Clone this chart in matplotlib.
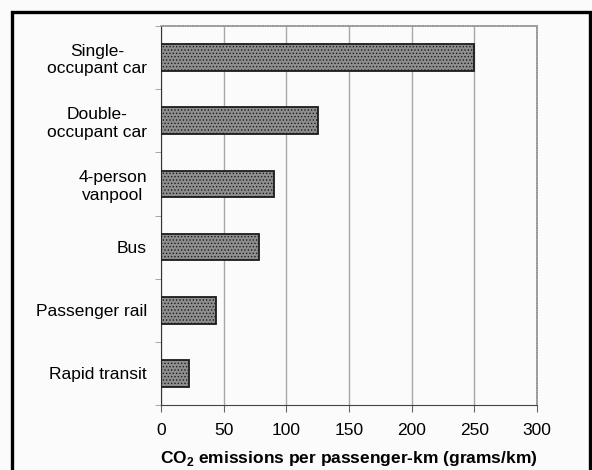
import numpy as np
from matplotlib import pyplot as plt
from matplotlib.patches import Rectangle

plt.rcParams['font.family'] = ['Liberation Sans', 'DejaVu Sans']
plt.rcParams['mathtext.fontset'] = 'custom'
plt.rcParams['mathtext.rm'] = 'Liberation Sans'
plt.rcParams['mathtext.bf'] = 'Liberation Sans:bold'
plt.rcParams['hatch.color'] = '#6e6e6e'
plt.rcParams['hatch.linewidth'] = 0.6

# data
modes = ['Single-\noccupant car', 'Double-\noccupant car', '4-person\nvanpool',
         'Bus', 'Passenger rail', 'Rapid transit']
emissions = [250, 125, 90, 78, 44, 22]
xticks = [0, 50, 100, 150, 200, 250, 300]

fig = plt.figure(figsize=(5.92, 4.70), dpi=100)
fig.patch.set_facecolor('#fbfbfb')
ax = fig.add_axes([161/592, 1 - 405/470, (537-161)/592, (405-26)/470])
ax.set_facecolor('#fbfbfb')

y = np.arange(len(modes))
ax.barh(y, emissions, height=0.42, color='#8e8e8e', edgecolor='#1c1c1c',
        linewidth=1.3, hatch='.....', zorder=3)

ax.set_xlim(0, 300)
ax.set_ylim(len(modes) - 0.5, -0.5)
ax.set_xticks(xticks)
ax.set_yticks(y)
ax.set_yticklabels(modes, fontsize=12.5, multialignment='center', linespacing=1.2)
ax.set_yticks(np.arange(-0.5, len(modes), 1), minor=True)
ax.tick_params(axis='y', which='major', length=0, pad=10)
ax.tick_params(axis='y', which='minor', length=4, color='#999999')
ax.tick_params(axis='x', length=5, color='#666666', labelsize=12.5, pad=8)
ax.grid(axis='x', color='#a8a8a8', linewidth=1, zorder=0)

for s in ['top', 'right']:
    ax.spines[s].set_color('#999999')
    ax.spines[s].set_linestyle((0, (1, 0.5)))
    ax.spines[s].set_linewidth(1.2)
ax.spines['left'].set_color('#333333')
ax.spines['bottom'].set_color('#444444')

ax.set_xlabel(r'CO$_\mathbf{2}$ emissions per passenger-km (grams/km)',
              fontsize=12.5, fontweight='bold', labelpad=8)

fig.patches.append(Rectangle((12/592, -0.05), (590-12)/592, 1.05 - 12/470,
                             transform=fig.transFigure, fill=False,
                             edgecolor='black', linewidth=2.4))

plt.savefig('out.png', dpi=100, facecolor=fig.get_facecolor())
